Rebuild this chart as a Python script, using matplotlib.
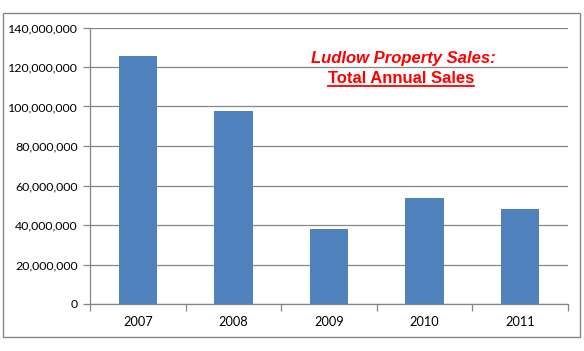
import matplotlib
matplotlib.use("Agg")
import matplotlib.pyplot as plt
from matplotlib.ticker import FuncFormatter, MultipleLocator
from matplotlib.patches import Rectangle
from matplotlib.lines import Line2D

years = ["2007", "2008", "2009", "2010", "2011"]
sales = [125600000, 97700000, 38200000, 53600000, 47900000]

title1 = "Ludlow Property Sales:"
title2 = "Total Annual Sales"

W, H = 584, 351
fig = plt.figure(figsize=(W / 100, H / 100), dpi=100)
fig.patch.set_facecolor("white")

# outer chart border
fig.patches.append(Rectangle((3 / W, 1 - 337 / H), 577 / W, 324 / H,
                             transform=fig.transFigure, fill=False,
                             edgecolor="#868686", linewidth=1.0))

ax = fig.add_axes([90 / W, 1 - 304 / H, 478 / W, 276.5 / H])
x = list(range(len(years)))
ax.bar(x, sales, width=0.4, color="#4F81BD", zorder=3)
ax.set_xlim(-0.5, len(years) - 0.5)
ax.set_ylim(0, 140000000)
ax.yaxis.set_major_locator(MultipleLocator(20000000))
ax.yaxis.set_major_formatter(FuncFormatter(lambda v, p: f"{int(v):,}"))
ax.grid(axis="y", color="#868686", linewidth=0.9, zorder=0)
for s in ["top", "right"]:
    ax.spines[s].set_visible(False)
for s in ["left", "bottom"]:
    ax.spines[s].set_color("#868686")
    ax.spines[s].set_linewidth(0.9)

ax.set_xticks(x)
ax.set_xticklabels(years)
ax.set_xticks([i - 0.5 for i in range(len(years) + 1)], minor=True)
ax.tick_params(axis="x", which="major", length=0, pad=9)
ax.tick_params(axis="x", which="minor", length=5, color="#868686", width=0.9)
ax.tick_params(axis="y", length=5, color="#868686", width=0.9, pad=4)
for lab in ax.get_yticklabels():
    lab.set_fontfamily("Lato")
    lab.set_fontsize(8.9)
    lab.set_color("black")
for lab in ax.get_xticklabels():
    lab.set_fontfamily("Lato")
    lab.set_fontsize(9.2)
    lab.set_color("black")

t1 = fig.text(403 / W, 1 - 59 / H, title1, color="red", fontsize=12,
              fontweight="bold", fontstyle="italic", family="Liberation Sans",
              ha="center", va="center")
t2 = fig.text(401 / W, 1 - 78.5 / H, title2, color="red", fontsize=12,
              fontweight="bold", family="Liberation Sans",
              ha="center", va="center")

fig.canvas.draw()
bb = t2.get_window_extent()
uy = (bb.y0 + 0.5) / H
fig.lines.append(Line2D([bb.x0 / W, bb.x1 / W], [uy, uy], transform=fig.transFigure,
                        color="red", linewidth=1.3))

fig.savefig("out.png", dpi=100)
